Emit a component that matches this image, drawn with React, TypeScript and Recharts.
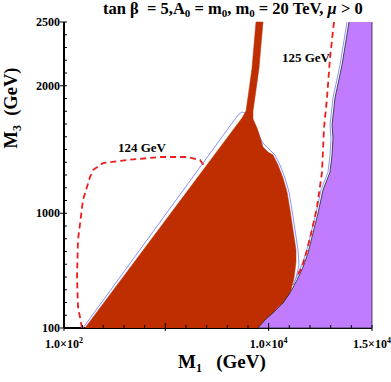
import { ScatterChart, Scatter, XAxis, YAxis, ReferenceDot } from 'recharts'

const SERIF = '"Liberation Serif", "Times New Roman", serif'
const BROWN = '#bf2e00'
const PURPLE = '#c07bff'
const BLUE = '#7b86ff'
const RED = '#ee1c1c'

// region allowed by the neutralino relic density (M1, M3 in GeV)
const brownM1 = [1116, 8711, 8905, 9050, 9195, 9388, 9727, 9534, 9388, 9243, 9243, 9437, 9582, 9727, 9969, 10211, 10453, 10695, 10888, 11034, 11179, 11324, 11324, 11227, 11082, 10888, 10695, 10453, 10211, 9824, 9485]
const brownM3 = [100, 1747, 1802, 1967, 2139, 2500, 2500, 2139, 1967, 1802, 1739, 1669, 1598, 1520, 1480, 1457, 1378, 1276, 1167, 1025, 869, 712, 618, 492, 398, 320, 296, 265, 218, 163, 100]

// excluded region
const purpleM1 = [13887, 13549, 13210, 13065, 13113, 13065, 12968, 12630, 12388, 12146, 11904, 11662, 11372, 11034, 10695, 10211, 9824, 9485, 15000, 15000]
const purpleM3 = [2500, 2163, 1904, 1692, 1590, 1457, 1323, 1182, 1002, 845, 688, 578, 476, 375, 296, 218, 163, 100, 100, 2500]

// thin blue contour
const blueM1 = [1019, 8372, 8566, 8711, 8905, 9195, 9388, 9582, 9727, 10066, 10308, 10549, 10791, 10985, 11130, 11276, 11421, 11469, 11324, 11179, 11566, 11808, 12050, 12291, 12533, 12872, 12968, 13017, 12968, 13113, 13452, 13791]
const blueM3 = [100, 1739, 1778, 1794, 1786, 1731, 1669, 1590, 1551, 1496, 1457, 1378, 1276, 1167, 1025, 869, 712, 594, 492, 437, 578, 688, 845, 1002, 1182, 1323, 1457, 1590, 1692, 1904, 2163, 2500]

// Higgs mass contours
const h124M1 = [971, 777, 729, 777, 1019, 1358, 1503, 1987, 3148, 4744, 6050, 6679, 6921]
const h124M3 = [100, 265, 500, 790, 1104, 1284, 1339, 1394, 1418, 1441, 1441, 1418, 1363]
const h125M1 = [13162, 12968, 12823, 12678, 12630, 12582, 12340, 12098, 11856, 11614, 11372]
const h125M3 = [2500, 2218, 1904, 1669, 1496, 1323, 1049, 869, 712, 578, 508]

const xTicks = [100, 1000, 2000, 3000, 4000, 5000, 6000, 7000, 8000, 9000, 10000, 11000, 12000, 13000, 14000, 15000]
const yTicks = [100, 200, 300, 400, 500, 600, 700, 800, 900, 1000, 1100, 1200, 1300, 1400, 1500, 1600, 1700, 1800, 1900, 2000, 2100, 2200, 2300, 2400, 2500]
const xLabels: Record<number, [string, string]> = { 100: ['1.0×10', '2'], 10000: ['1.0×10', '4'], 15000: ['1.5×10', '4'] }
const yLabels = [100, 1000, 2000, 2500]
const xMajor = [5000, 10000]
const yMajor = [1000, 2000]

const zip = (xs: number[], ys: number[]) => xs.map((x, i) => ({ x, y: ys[i] }))
const brown = zip(brownM1, brownM3)
const purple = zip(purpleM1, purpleM3)
const blue = zip(blueM1, blueM3)
const h124 = zip(h124M1, h124M3)
const h125 = zip(h125M1, h125M3)

const noDot = () => <g />

function BottomTick({ x, y, payload }: any) {
  const v = payload.value
  const lab = xLabels[v]
  const big = xMajor.includes(v)
  return (
    <g>
      <line x1={x} x2={x} y1={y} y2={y - (big ? 5 : 3)} stroke="#000" />
      {(lab || big) && <line x1={x} x2={x} y1={y} y2={y + 3} stroke="#000" />}
      {lab && (
        <text x={x} y={y + 20} textAnchor="middle" fontFamily={SERIF} fontWeight="bold" fontSize={12} fill="#000">
          {lab[0]}
          <tspan dy={-5} fontSize={8}>{lab[1]}</tspan>
        </text>
      )}
    </g>
  )
}

function TopTick({ x, y, payload }: any) {
  const big = xMajor.includes(payload.value)
  return <line x1={x} x2={x} y1={y} y2={y + (big ? 5 : 3)} stroke="#000" />
}

function LeftTick({ x, y, payload }: any) {
  const v = payload.value
  const lab = yLabels.includes(v)
  return (
    <g>
      <line x1={x} x2={x + 3} y1={y} y2={y} stroke="#000" />
      {lab && <line x1={x} x2={x - 4} y1={y} y2={y} stroke="#000" />}
      {lab && (
        <text x={x - 4} y={y} dy={4} textAnchor="end" fontFamily={SERIF} fontWeight="bold" fontSize={12} fill="#000">
          {v}
        </text>
      )}
    </g>
  )
}

function RightTick({ x, y, payload }: any) {
  const big = yMajor.includes(payload.value)
  return <line x1={x} x2={x - (big ? 5 : 3)} y1={y} y2={y} stroke="#000" />
}

const textLabel = (value: string) => ({
  value,
  position: 'center' as const,
  fill: '#000',
  fontSize: 13,
  fontWeight: 'bold',
  fontFamily: SERIF,
})

const sub = (fontSize: number, shift: number) => ({ fontSize, verticalAlign: shift })

export default function App() {
  return (
    <div style={{ position: 'relative', width: 391, height: 382, fontFamily: SERIF }}>
      <style>{'body{margin:0}'}</style>
      <ScatterChart width={391} height={382} margin={{ top: 22, right: 19, bottom: 0, left: 0 }}>
        <XAxis dataKey="x" type="number" domain={[100, 15000]} ticks={xTicks} interval={0} height={54}
          tickSize={0} tickMargin={0} tickLine={false} tick={<BottomTick />} axisLine={{ stroke: '#000', strokeWidth: 2 }} />
        <XAxis xAxisId="top" orientation="top" dataKey="x" type="number" domain={[100, 15000]} allowDataOverflow
          ticks={xTicks} interval={0} height={0} tickSize={0} tickMargin={0} tickLine={false} tick={<TopTick />}
          axisLine={{ stroke: '#000', strokeWidth: 2 }} />
        <YAxis dataKey="y" type="number" domain={[100, 2500]} ticks={yTicks} interval={0} width={64}
          tickSize={0} tickMargin={0} tickLine={false} tick={<LeftTick />} axisLine={{ stroke: '#000', strokeWidth: 2 }} />
        <YAxis yAxisId="right" orientation="right" dataKey="y" type="number" domain={[100, 2500]} allowDataOverflow
          ticks={yTicks} interval={0} width={0} tickSize={0} tickMargin={0} tickLine={false} tick={<RightTick />}
          axisLine={{ stroke: '#000', strokeWidth: 2 }} />
        <Scatter data={blue} shape={noDot} line={{ stroke: BLUE, strokeWidth: 0.9 }} isAnimationActive={false} />
        <Scatter data={brown} shape={noDot} line={{ fill: BROWN, stroke: BROWN, strokeWidth: 0.5 }} isAnimationActive={false} />
        <Scatter data={purple} shape={noDot} line={{ fill: PURPLE, stroke: '#222', strokeWidth: 0.8 }} isAnimationActive={false} />
        <Scatter data={h124} shape={noDot} line={{ stroke: RED, strokeWidth: 1.8, strokeDasharray: '6 4' }} isAnimationActive={false} />
        <Scatter data={h125} shape={noDot} line={{ stroke: RED, strokeWidth: 1.8, strokeDasharray: '6 4' }} isAnimationActive={false} />
        <ReferenceDot x={3873} y={1520} r={0} fill="none" stroke="none" label={textLabel('124 GeV')} />
        <ReferenceDot x={11807} y={2225} r={0} fill="none" stroke="none" label={textLabel('125 GeV')} />
      </ScatterChart>
      <div style={{ position: 'absolute', left: 103, top: 0, fontSize: 16.5, fontWeight: 'bold', whiteSpace: 'nowrap', lineHeight: '18px' }}>
        tan β&nbsp; = 5,A<span style={sub(11, -3)}>0</span> = m<span style={sub(11, -3)}>0</span>, m<span style={sub(11, -3)}>0</span> = 20 TeV, <i>μ</i> &gt; 0
      </div>
      <div style={{ position: 'absolute', left: 178, top: 351, fontSize: 19, fontWeight: 'bold', whiteSpace: 'nowrap', lineHeight: '22px' }}>
        M<span style={sub(12, -4)}>1</span>&nbsp;&nbsp; (GeV)
      </div>
      <div style={{ position: 'absolute', left: 14, top: 108, transform: 'translate(-50%, -50%) rotate(-90deg)', fontSize: 18.5, fontWeight: 'bold', whiteSpace: 'nowrap', lineHeight: '22px' }}>
        M<span style={sub(12, -4)}>3</span>&nbsp; (GeV)
      </div>
    </div>
  )
}
